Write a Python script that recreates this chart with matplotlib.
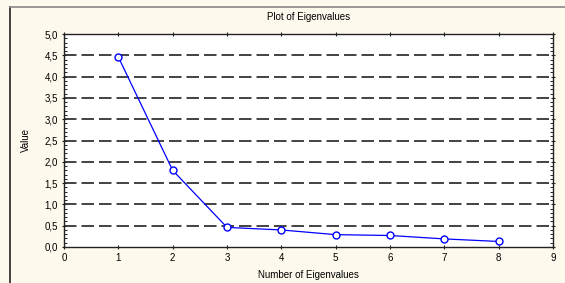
import matplotlib
matplotlib.use("Agg")
import matplotlib.pyplot as plt
from matplotlib.ticker import MultipleLocator, FuncFormatter
from matplotlib.lines import Line2D

eigen_number = [1, 2, 3, 4, 5, 6, 7, 8]
eigen_values = [4.46, 1.80, 0.46, 0.40, 0.29, 0.27, 0.19, 0.13]
title = "Plot of Eigenvalues"
xlabel = "Number of Eigenvalues"
ylabel = "Value"

plt.rcParams['font.family'] = ['Liberation Sans', 'DejaVu Sans']
bg = '#fdf9ec'
fig = plt.figure(figsize=(5.65, 2.83), dpi=100, facecolor=bg)
ax = fig.add_axes([64/565, 1-247/283, (553-64)/565, (247-34)/283])
ax.set_facecolor('white')

# frame lines of the figure panel
fig.add_artist(Line2D([9.5/565, 9.5/565], [0, 1-6.5/283], transform=fig.transFigure, color='#222222', lw=1.2))
fig.add_artist(Line2D([9.5/565, 1], [1-6.5/283, 1-6.5/283], transform=fig.transFigure, color='#888888', lw=1.2))

for yv in [0.5, 1.0, 1.5, 2.0, 2.5, 3.0, 3.5, 4.0, 4.5]:
    ax.axhline(yv, color='#222222', lw=1.2, ls=(0, (7.5, 3)), zorder=1)

ax.plot(eigen_number, eigen_values, color='#0000ff', lw=0.9, marker='o', ms=5,
        mfc='white', mec='#0000ff', mew=1.0, zorder=3)

ax.set_xlim(0, 9)
ax.set_ylim(0, 5)
ax.xaxis.set_major_locator(MultipleLocator(1))
ax.yaxis.set_major_locator(MultipleLocator(0.5))
ax.yaxis.set_minor_locator(MultipleLocator(0.1))
ax.yaxis.set_major_formatter(FuncFormatter(lambda v, p: f"{v:.1f}".replace('.', ',')))
ax.tick_params(axis='both', which='major', labelsize=7, color='#222222', length=3, width=0.8,
               direction='inout', top=True, right=True, pad=3)
ax.tick_params(axis='y', which='minor', length=2, width=0.6, direction='in', left=True, right=True)
for s in ax.spines.values():
    s.set_color('#222222')
    s.set_linewidth(1.0)

ax.set_title(title, fontsize=7, pad=10)
ax.set_xlabel(xlabel, fontsize=7, labelpad=5)
ax.set_ylabel(ylabel, fontsize=7, labelpad=10)

fig.savefig("out.png", dpi=100, facecolor=bg)
